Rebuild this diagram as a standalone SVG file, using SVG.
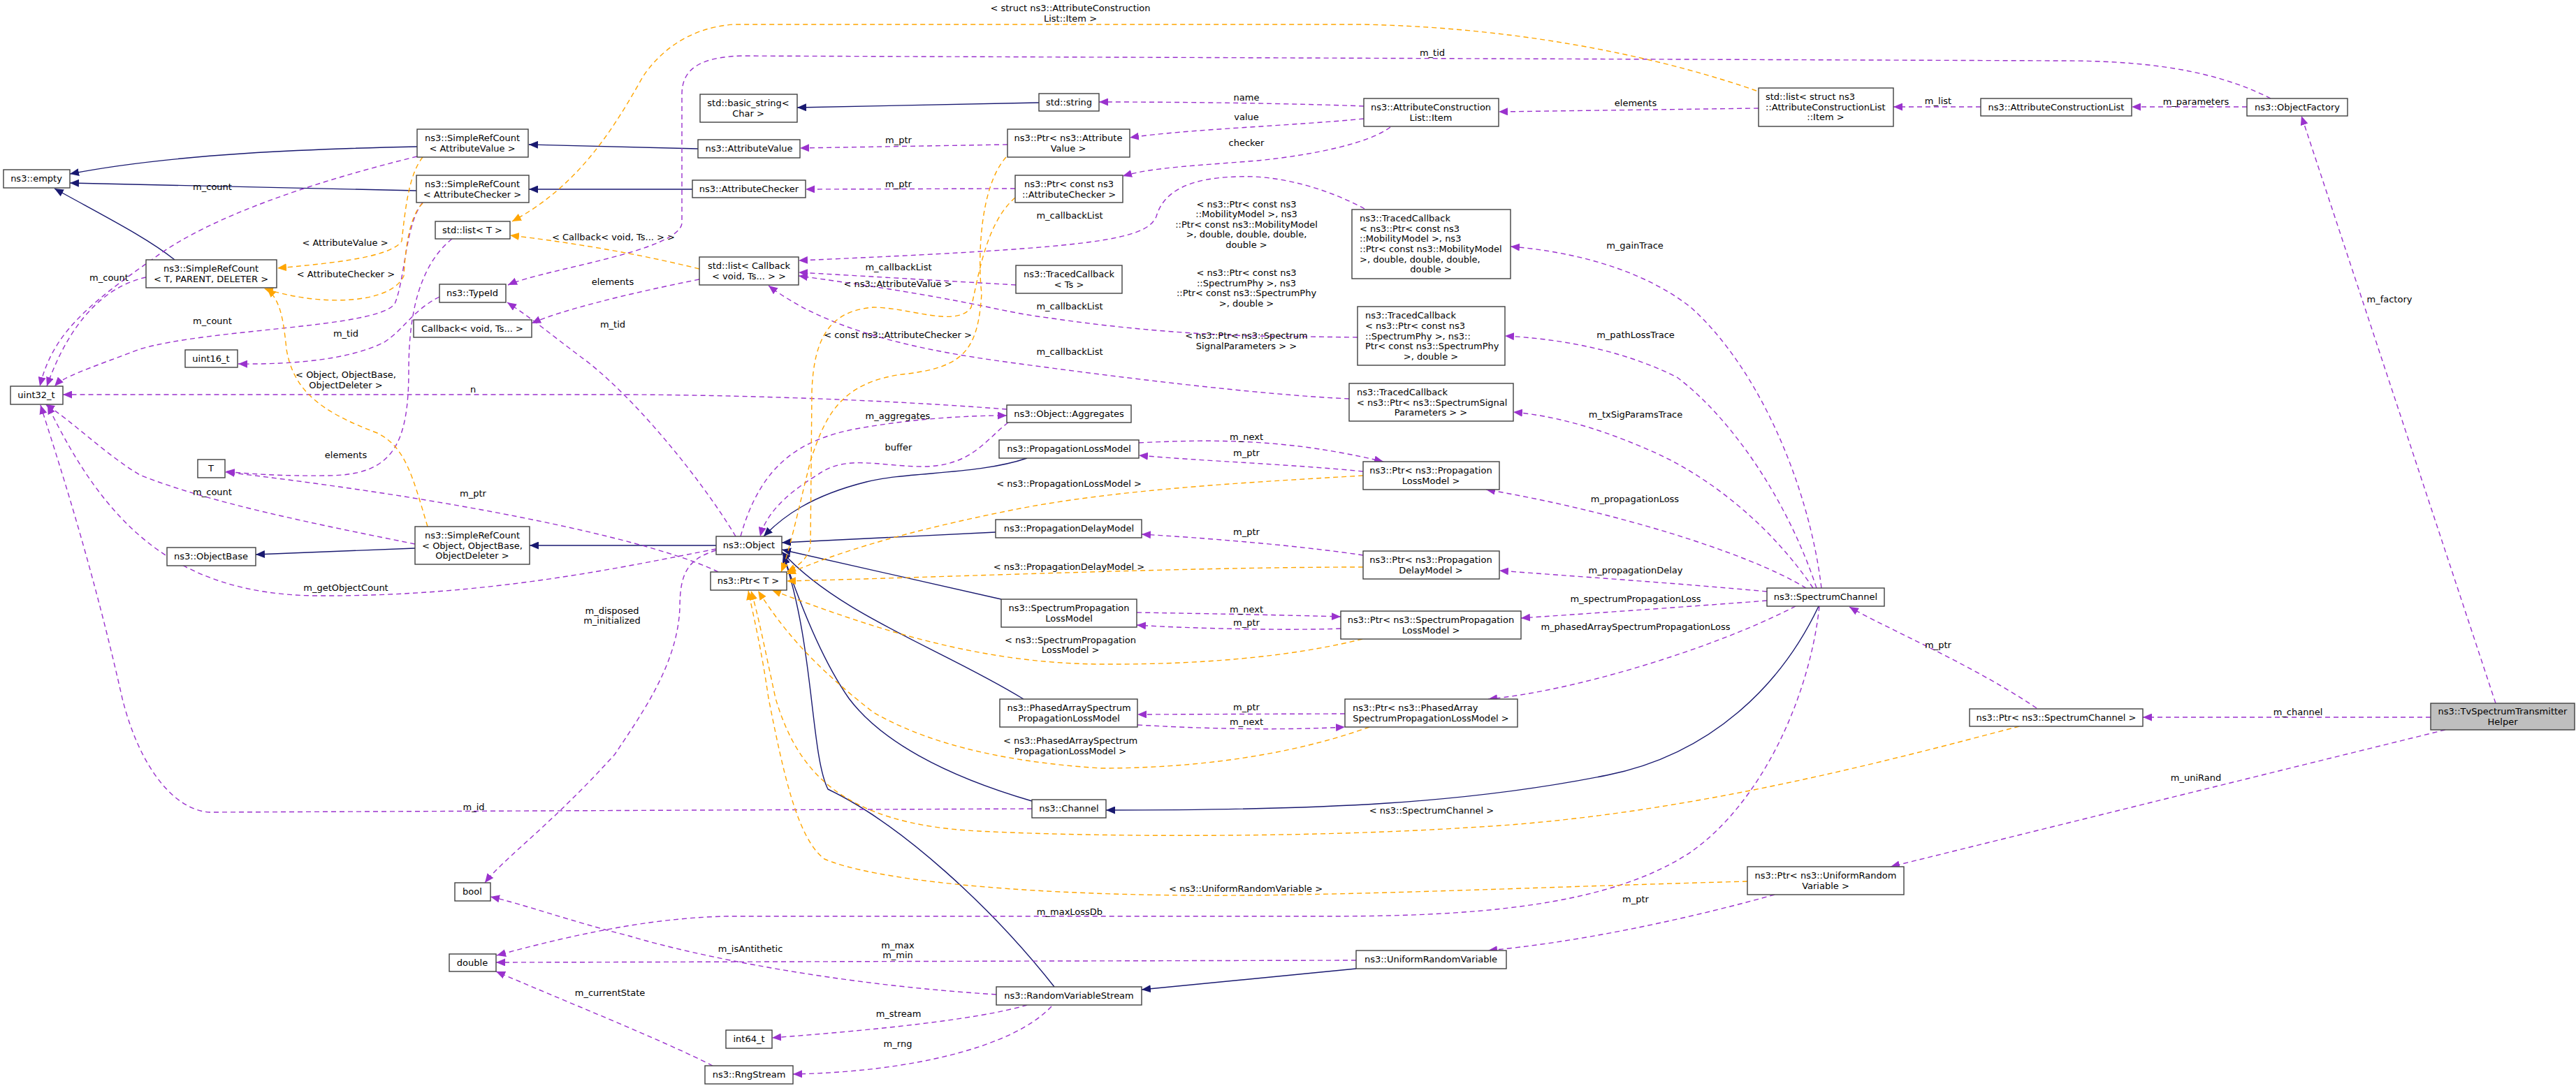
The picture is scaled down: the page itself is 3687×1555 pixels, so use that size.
<svg xmlns="http://www.w3.org/2000/svg" width="3687" height="1555" viewBox="0 0 3687 1555">
<style>
text{font-family:"DejaVu Sans","Liberation Sans",sans-serif;font-size:13px;fill:#000}
.n rect{fill:#fff;stroke:#404040;stroke-width:1.4}
.c{text-anchor:middle}
.i{fill:none;stroke:#191970;stroke-width:1.4}
.u{fill:none;stroke:#9a32cd;stroke-width:1.4;stroke-dasharray:7,5}
.t{fill:none;stroke:#ffa500;stroke-width:1.4;stroke-dasharray:7,5}
</style>
<defs>
<marker id="ai" markerUnits="userSpaceOnUse" markerWidth="14" markerHeight="11" refX="13" refY="5.5" orient="auto"><path d="M0,0 L13,5.5 L0,11 z" fill="#191970"/></marker>
<marker id="au" markerUnits="userSpaceOnUse" markerWidth="14" markerHeight="11" refX="13" refY="5.5" orient="auto"><path d="M0,0 L13,5.5 L0,11 z" fill="#9a32cd"/></marker>
<marker id="at" markerUnits="userSpaceOnUse" markerWidth="14" markerHeight="11" refX="13" refY="5.5" orient="auto"><path d="M0,0 L13,5.5 L0,11 z" fill="#ffa500"/></marker>
</defs>
<rect width="3687" height="1555" fill="#fff"/>
<g id="edges">
<!-- inheritance -->
<path class="i" marker-end="url(#ai)" d="M597,210 C450,213 250,220 100,249"/>
<path class="i" marker-end="url(#ai)" d="M596,273 L100,262"/>
<path class="i" marker-end="url(#ai)" d="M250,372 C210,340 150,310 78,270"/>
<path class="i" marker-end="url(#ai)" d="M999,213 L757,207"/>
<path class="i" marker-end="url(#ai)" d="M991,271 L757,271"/>
<path class="i" marker-end="url(#ai)" d="M1487,147 L1141,154"/>
<path class="i" marker-end="url(#ai)" d="M1025,781 L758,781"/>
<path class="i" marker-end="url(#ai)" d="M594,785 L366,794"/>
<path class="i" marker-end="url(#ai)" d="M1470,656 C1400,680 1300,675 1240,690 C1160,710 1120,740 1093,768"/>
<path class="i" marker-end="url(#ai)" d="M1425,762 L1119,777"/>
<path class="i" marker-end="url(#ai)" d="M1433,858 L1119,787"/>
<path class="i" marker-end="url(#ai)" d="M1465,1001 C1350,930 1200,880 1119,790"/>
<path class="i" marker-end="url(#ai)" d="M1477,1147 C1350,1110 1260,1060 1215,1000 C1180,950 1150,880 1121,794"/>
<path class="i" marker-end="url(#ai)" d="M1509,1413 C1420,1300 1290,1180 1185,1130 C1160,1080 1165,920 1121,795"/>
<path class="i" marker-end="url(#ai)" d="M2603,868 C2550,980 2450,1080 2300,1110 C2100,1150 1900,1160 1583,1160"/>
<path class="i" marker-end="url(#ai)" d="M1941,1387 L1634,1417"/>
<!-- usage -->
<path class="u" marker-end="url(#au)" d="M3250,141 C3160,95 3050,87 2950,87 L1060,80 C1000,82 976,100 976,135 L976,320 C970,360 780,385 727,408"/>
<path class="u" marker-end="url(#au)" d="M1053,768 C1000,680 900,560 830,510 C790,480 760,455 726,433"/>
<path class="u" marker-end="url(#au)" d="M1001,400 C900,420 800,445 761,463"/>
<path class="u" marker-end="url(#au)" d="M1454,408 L1143,390"/>
<path class="u" marker-end="url(#au)" d="M1953,299 C1900,270 1830,250 1770,253 C1700,255 1665,275 1655,310 C1640,345 1560,355 1143,373"/>
<path class="u" marker-end="url(#au)" d="M1943,483 L1790,481 C1700,478 1600,470 1500,455 C1420,445 1400,430 1143,395"/>
<path class="u" marker-end="url(#au)" d="M1931,571 C1800,565 1600,540 1453,520 C1300,500 1180,470 1100,409"/>
<path class="u" marker-end="url(#au)" d="M1952,152 C1850,148 1700,146 1573,146"/>
<path class="u" marker-end="url(#au)" d="M1952,170 C1850,180 1700,185 1617,197"/>
<path class="u" marker-end="url(#au)" d="M1990,182 C1960,205 1880,222 1800,230 C1700,238 1650,240 1607,252"/>
<path class="u" marker-end="url(#au)" d="M1442,207 L1145,212"/>
<path class="u" marker-end="url(#au)" d="M1453,270 L1153,271"/>
<path class="u" marker-end="url(#au)" d="M2517,155 L2145,160"/>
<path class="u" marker-end="url(#au)" d="M2835,153 L2710,153"/>
<path class="u" marker-end="url(#au)" d="M3216,153 L3051,153"/>
<path class="u" marker-end="url(#au)" d="M3572,1007 L3294,166"/>
<path class="u" marker-end="url(#au)" d="M3479,1027 L3067,1027"/>
<path class="u" marker-end="url(#au)" d="M3500,1045 L2706,1241"/>
<path class="u" marker-end="url(#au)" d="M2915,1014 C2820,950 2700,900 2647,869"/>
<path class="u" marker-end="url(#au)" d="M2540,1281 C2400,1320 2250,1350 2130,1361"/>
<path class="u" marker-end="url(#au)" d="M2607,842 C2590,700 2520,530 2420,440 C2350,385 2250,360 2162,353"/>
<path class="u" marker-end="url(#au)" d="M2600,842 C2560,720 2480,600 2400,540 C2320,500 2230,485 2154,481"/>
<path class="u" marker-end="url(#au)" d="M2595,842 C2540,760 2450,680 2350,640 C2280,610 2220,595 2166,590"/>
<path class="u" marker-end="url(#au)" d="M2585,842 C2500,790 2300,730 2127,701"/>
<path class="u" marker-end="url(#au)" d="M2529,847 C2400,835 2250,825 2146,817"/>
<path class="u" marker-end="url(#au)" d="M2529,860 C2400,870 2250,880 2177,885"/>
<path class="u" marker-end="url(#au)" d="M2570,868 C2450,930 2250,990 2130,1001"/>
<path class="u" marker-end="url(#au)" d="M2604,868 C2590,1000 2520,1150 2420,1220 C2300,1300 2100,1312 1900,1312 L1040,1312 C950,1314 850,1330 711,1368"/>
<path class="u" marker-end="url(#au)" d="M1941,1375 L710,1378"/>
<path class="u" marker-end="url(#au)" d="M1426,1424 C1200,1410 1000,1370 900,1340 C820,1320 750,1295 702,1284"/>
<path class="u" marker-end="url(#au)" d="M1470,1439 C1400,1460 1250,1475 1105,1486"/>
<path class="u" marker-end="url(#au)" d="M1505,1441 C1450,1500 1300,1535 1135,1538"/>
<path class="u" marker-end="url(#au)" d="M1020,1526 C950,1490 800,1430 710,1391"/>
<path class="u" marker-end="url(#au)" d="M1025,788 C985,800 973,820 973,870 C970,950 920,1020 880,1080 C790,1180 720,1230 694,1264"/>
<path class="u" marker-end="url(#au)" d="M1060,768 C1090,660 1150,630 1220,615 C1300,600 1380,595 1441,595"/>
<path class="u" marker-end="url(#au)" d="M1443,605 C1410,630 1390,668 1320,668 C1260,668 1210,650 1170,680 C1120,710 1095,740 1088,768"/>
<path class="u" marker-end="url(#au)" d="M1441,586 C1300,575 1100,566 900,565 L90,565"/>
<path class="u" marker-end="url(#au)" d="M597,224 C450,260 300,310 220,370 C120,440 75,480 57,553"/>
<path class="u" marker-end="url(#au)" d="M209,397 C150,410 100,460 67,553"/>
<path class="u" marker-end="url(#au)" d="M605,290 C580,320 580,400 565,435 C540,470 300,470 200,500 C120,530 90,540 78,553"/>
<path class="u" marker-end="url(#au)" d="M594,779 C450,750 300,720 200,680 C150,650 100,600 65,579"/>
<path class="u" marker-end="url(#au)" d="M1025,786 C900,810 700,855 450,853 C250,850 150,750 68,580"/>
<path class="u" marker-end="url(#au)" d="M1477,1158 L300,1163 C250,1160 200,1100 175,1000 C130,800 80,650 58,580"/>
<path class="u" marker-end="url(#au)" d="M647,342 C600,380 585,450 585,530 C585,640 560,680 470,681 C400,682 350,678 323,675"/>
<path class="u" marker-end="url(#au)" d="M629,425 C590,445 580,470 550,490 C500,515 420,522 341,521"/>
<path class="u" marker-end="url(#au)" d="M1028,819 C950,780 700,720 323,676"/>
<path class="u" marker-end="url(#au)" d="M1951,675 C1850,665 1720,660 1630,652"/>
<path class="u" marker-end="url(#au)" d="M1630,634 C1750,628 1850,630 1980,661"/>
<path class="u" marker-end="url(#au)" d="M1951,795 C1850,780 1720,770 1634,765"/>
<path class="u" marker-end="url(#au)" d="M1919,900 C1850,903 1700,900 1627,895"/>
<path class="u" marker-end="url(#au)" d="M1627,877 C1750,879 1850,881 1919,883"/>
<path class="u" marker-end="url(#au)" d="M1925,1022 L1628,1023"/>
<path class="u" marker-end="url(#au)" d="M1628,1038 C1750,1045 1850,1045 1925,1041"/>
<!-- template -->
<path class="t" marker-end="url(#at)" d="M2514,130 C2400,90 2200,40 1950,35 L1050,35 C980,40 940,80 920,110 C870,200 820,270 733,317"/>
<path class="t" marker-end="url(#at)" d="M605,225 C585,250 580,300 575,345 C560,370 460,378 397,384"/>
<path class="t" marker-end="url(#at)" d="M605,291 C585,310 580,360 578,395 C560,435 460,440 378,413"/>
<path class="t" marker-end="url(#at)" d="M612,754 C590,680 580,640 540,620 C460,590 420,560 410,500 C405,450 400,430 382,413"/>
<path class="t" marker-end="url(#at)" d="M1001,385 C900,360 800,345 730,337"/>
<path class="t" marker-end="url(#at)" d="M1440,225 C1400,270 1400,380 1405,420 C1400,500 1380,525 1300,535 C1200,545 1180,600 1160,660 C1140,740 1130,790 1118,819"/>
<path class="t" marker-end="url(#at)" d="M1453,283 C1410,320 1400,400 1390,440 C1370,470 1300,440 1250,440 C1190,445 1165,480 1162,560 L1160,780 C1158,800 1140,812 1126,819"/>
<path class="t" marker-end="url(#at)" d="M1951,681 C1800,690 1600,700 1450,730 C1300,760 1200,790 1126,822"/>
<path class="t" marker-end="url(#at)" d="M1951,812 C1700,812 1400,825 1126,832"/>
<path class="t" marker-end="url(#at)" d="M1950,915 C1870,935 1750,952 1576,951 C1400,950 1250,900 1105,845"/>
<path class="t" marker-end="url(#at)" d="M1960,1041 C1880,1070 1750,1100 1576,1100 C1420,1090 1320,1060 1250,1020 C1160,950 1120,900 1085,846"/>
<path class="t" marker-end="url(#at)" d="M2890,1040 C2700,1090 2400,1170 2100,1185 C1900,1198 1600,1200 1400,1190 C1200,1180 1140,1100 1110,1000 C1095,930 1085,880 1075,846"/>
<path class="t" marker-end="url(#at)" d="M2501,1262 C2200,1270 1900,1284 1700,1282 C1450,1280 1250,1260 1180,1230 C1140,1200 1120,1100 1100,1000 C1090,930 1078,880 1071,846"/>
<!-- labels -->
<g class="c">
<text x="1532" y="16">&lt; struct ns3::AttributeConstruction</text>
<text x="1532" y="31">List::Item &gt;</text>
<text x="2050" y="80">m_tid</text>
<text x="1784" y="144">name</text>
<text x="1784" y="172">value</text>
<text x="1784" y="209">checker</text>
<text x="2341" y="152">elements</text>
<text x="2774" y="149">m_list</text>
<text x="3143" y="150">m_parameters</text>
<text x="1286" y="205">m_ptr</text>
<text x="1286" y="268">m_ptr</text>
<text x="304" y="272">m_count</text>
<text x="494" y="352">&lt; AttributeValue &gt;</text>
<text x="495" y="397">&lt; AttributeChecker &gt;</text>
<text x="156" y="402">m_count</text>
<text x="304" y="464">m_count</text>
<text x="495" y="482">m_tid</text>
<text x="877" y="408">elements</text>
<text x="877" y="469">m_tid</text>
<text x="878" y="344">&lt; Callback&lt; void, Ts... &gt; &gt;</text>
<text x="1531" y="313">m_callbackList</text>
<text x="1784" y="297">&lt; ns3::Ptr&lt; const ns3</text>
<text x="1784" y="311">::MobilityModel &gt;, ns3</text>
<text x="1784" y="326">::Ptr&lt; const ns3::MobilityModel</text>
<text x="1784" y="340">&gt;, double, double, double,</text>
<text x="1784" y="355">double &gt;</text>
<text x="1286" y="387">m_callbackList</text>
<text x="1285" y="411">&lt; ns3::AttributeValue &gt;</text>
<text x="1784" y="395">&lt; ns3::Ptr&lt; const ns3</text>
<text x="1784" y="410">::SpectrumPhy &gt;, ns3</text>
<text x="1784" y="424">::Ptr&lt; const ns3::SpectrumPhy</text>
<text x="1784" y="439">&gt;, double &gt;</text>
<text x="1531" y="443">m_callbackList</text>
<text x="1784" y="485">&lt; ns3::Ptr&lt; ns3::Spectrum</text>
<text x="1784" y="500">SignalParameters &gt; &gt;</text>
<text x="1285" y="484">&lt; const ns3::AttributeChecker &gt;</text>
<text x="1531" y="508">m_callbackList</text>
<text x="2340" y="356">m_gainTrace</text>
<text x="2341" y="484">m_pathLossTrace</text>
<text x="3420" y="433">m_factory</text>
<text x="495" y="541">&lt; Object, ObjectBase,</text>
<text x="495" y="556">ObjectDeleter &gt;</text>
<text x="677" y="562">n</text>
<text x="495" y="656">elements</text>
<text x="304" y="709">m_count</text>
<text x="677" y="711">m_ptr</text>
<text x="495" y="846">m_getObjectCount</text>
<text x="876" y="879">m_disposed</text>
<text x="876" y="893">m_initialized</text>
<text x="1285" y="600">m_aggregates</text>
<text x="1286" y="645">buffer</text>
<text x="1784" y="630">m_next</text>
<text x="1784" y="653">m_ptr</text>
<text x="1530" y="697">&lt; ns3::PropagationLossModel &gt;</text>
<text x="1784" y="766">m_ptr</text>
<text x="1530" y="816">&lt; ns3::PropagationDelayModel &gt;</text>
<text x="1784" y="877">m_next</text>
<text x="1784" y="896">m_ptr</text>
<text x="1532" y="921">&lt; ns3::SpectrumPropagation</text>
<text x="1532" y="935">LossModel &gt;</text>
<text x="1784" y="1017">m_ptr</text>
<text x="1784" y="1038">m_next</text>
<text x="2341" y="598">m_txSigParamsTrace</text>
<text x="2340" y="719">m_propagationLoss</text>
<text x="2341" y="821">m_propagationDelay</text>
<text x="2341" y="862">m_spectrumPropagationLoss</text>
<text x="2341" y="902">m_phasedArraySpectrumPropagationLoss</text>
<text x="2774" y="928">m_ptr</text>
<text x="3289" y="1024">m_channel</text>
<text x="678" y="1160">m_id</text>
<text x="873" y="1426">m_currentState</text>
<text x="1532" y="1065">&lt; ns3::PhasedArraySpectrum</text>
<text x="1532" y="1080">PropagationLossModel &gt;</text>
<text x="1783" y="1277">&lt; ns3::UniformRandomVariable &gt;</text>
<text x="1531" y="1310">m_maxLossDb</text>
<text x="1074" y="1363">m_isAntithetic</text>
<text x="1285" y="1358">m_max</text>
<text x="1285" y="1372">m_min</text>
<text x="1286" y="1456">m_stream</text>
<text x="1285" y="1499">m_rng</text>
<text x="2049" y="1165">&lt; ns3::SpectrumChannel &gt;</text>
<text x="2341" y="1292">m_ptr</text>
<text x="3143" y="1118">m_uniRand</text>
</g>
</g>
<g id="n_empty" class="n"><rect x="5" y="243" width="95" height="26"/><text class="c" x="52" y="260">ns3::empty</text></g>
<g id="n_src_av" class="n"><rect x="597" y="185" width="159" height="40"/><text class="c" x="676" y="202">ns3::SimpleRefCount</text><text class="c" x="676" y="217">&lt; AttributeValue &gt;</text></g>
<g id="n_src_ac" class="n"><rect x="596" y="251" width="161" height="39"/><text class="c" x="676" y="268">ns3::SimpleRefCount</text><text class="c" x="676" y="283">&lt; AttributeChecker &gt;</text></g>
<g id="n_listT" class="n"><rect x="623" y="317" width="107" height="25"/><text class="c" x="676" y="334">std::list&lt; T &gt;</text></g>
<g id="n_src_tpd" class="n"><rect x="209" y="372" width="187" height="40"/><text class="c" x="302" y="389">ns3::SimpleRefCount</text><text class="c" x="302" y="404">&lt; T, PARENT, DELETER &gt;</text></g>
<g id="n_typeid" class="n"><rect x="629" y="407" width="95" height="26"/><text class="c" x="676" y="424">ns3::TypeId</text></g>
<g id="n_callback" class="n"><rect x="592" y="458" width="169" height="25"/><text class="c" x="676" y="475">Callback&lt; void, Ts... &gt;</text></g>
<g id="n_uint16" class="n"><rect x="265" y="501" width="75" height="25"/><text class="c" x="302" y="518">uint16_t</text></g>
<g id="n_uint32" class="n"><rect x="15" y="553" width="75" height="26"/><text class="c" x="52" y="570">uint32_t</text></g>
<g id="n_T" class="n"><rect x="283" y="658" width="39" height="26"/><text class="c" x="302" y="675">T</text></g>
<g id="n_objectbase" class="n"><rect x="239" y="784" width="127" height="26"/><text class="c" x="302" y="801">ns3::ObjectBase</text></g>
<g id="n_src_obj" class="n"><rect x="594" y="754" width="164" height="54"/><text class="c" x="676" y="771">ns3::SimpleRefCount</text><text class="c" x="676" y="786">&lt; Object, ObjectBase,</text><text class="c" x="676" y="800">ObjectDeleter &gt;</text></g>
<g id="n_bool" class="n"><rect x="651" y="1264" width="51" height="26"/><text class="c" x="676" y="1281">bool</text></g>
<g id="n_double" class="n"><rect x="643" y="1366" width="67" height="25"/><text class="c" x="676" y="1383">double</text></g>
<g id="n_basic_string" class="n"><rect x="1002" y="135" width="139" height="40"/><text class="c" x="1071" y="152">std::basic_string&lt;</text><text class="c" x="1071" y="167">Char &gt;</text></g>
<g id="n_attrvalue" class="n"><rect x="999" y="200" width="146" height="26"/><text class="c" x="1072" y="217">ns3::AttributeValue</text></g>
<g id="n_attrchecker" class="n"><rect x="991" y="258" width="162" height="25"/><text class="c" x="1072" y="275">ns3::AttributeChecker</text></g>
<g id="n_listcallback" class="n"><rect x="1001" y="368" width="142" height="40"/><text class="c" x="1072" y="385">std::list&lt; Callback</text><text class="c" x="1072" y="400">&lt; void, Ts... &gt; &gt;</text></g>
<g id="n_object" class="n"><rect x="1025" y="768" width="94" height="26"/><text class="c" x="1072" y="785">ns3::Object</text></g>
<g id="n_ptrT" class="n"><rect x="1017" y="819" width="109" height="26"/><text class="c" x="1071" y="836">ns3::Ptr&lt; T &gt;</text></g>
<g id="n_int64" class="n"><rect x="1039" y="1475" width="66" height="26"/><text class="c" x="1072" y="1492">int64_t</text></g>
<g id="n_rngstream" class="n"><rect x="1009" y="1526" width="126" height="26"/><text class="c" x="1072" y="1543">ns3::RngStream</text></g>
<g id="n_string" class="n"><rect x="1487" y="134" width="86" height="25"/><text class="c" x="1530" y="151">std::string</text></g>
<g id="n_ptr_av" class="n"><rect x="1442" y="185" width="175" height="40"/><text class="c" x="1529" y="202">ns3::Ptr&lt; ns3::Attribute</text><text class="c" x="1529" y="217">Value &gt;</text></g>
<g id="n_ptr_ac" class="n"><rect x="1453" y="251" width="154" height="39"/><text class="c" x="1530" y="268">ns3::Ptr&lt; const ns3</text><text class="c" x="1530" y="283">::AttributeChecker &gt;</text></g>
<g id="n_tc_ts" class="n"><rect x="1454" y="380" width="152" height="40"/><text class="c" x="1530" y="397">ns3::TracedCallback</text><text class="c" x="1530" y="412">&lt; Ts &gt;</text></g>
<g id="n_aggregates" class="n"><rect x="1441" y="580" width="178" height="25"/><text class="c" x="1530" y="597">ns3::Object::Aggregates</text></g>
<g id="n_plm" class="n"><rect x="1430" y="630" width="200" height="26"/><text class="c" x="1530" y="647">ns3::PropagationLossModel</text></g>
<g id="n_pdm" class="n"><rect x="1425" y="744" width="209" height="26"/><text class="c" x="1530" y="761">ns3::PropagationDelayModel</text></g>
<g id="n_splm" class="n"><rect x="1433" y="858" width="194" height="40"/><text class="c" x="1530" y="875">ns3::SpectrumPropagation</text><text class="c" x="1530" y="890">LossModel</text></g>
<g id="n_pasplm" class="n"><rect x="1431" y="1001" width="197" height="40"/><text class="c" x="1530" y="1018">ns3::PhasedArraySpectrum</text><text class="c" x="1530" y="1033">PropagationLossModel</text></g>
<g id="n_channel" class="n"><rect x="1477" y="1145" width="106" height="26"/><text class="c" x="1530" y="1162">ns3::Channel</text></g>
<g id="n_rvs" class="n"><rect x="1426" y="1413" width="208" height="26"/><text class="c" x="1530" y="1430">ns3::RandomVariableStream</text></g>
<g id="n_item" class="n"><rect x="1952" y="141" width="193" height="40"/><text class="c" x="2048" y="158">ns3::AttributeConstruction</text><text class="c" x="2048" y="173">List::Item</text></g>
<g id="n_tc_mob" class="n"><rect x="1935" y="300" width="227" height="99"/><text x="1946" y="317">ns3::TracedCallback</text><text x="1946" y="332">&lt; ns3::Ptr&lt; const ns3</text><text x="1946" y="346">::MobilityModel &gt;, ns3</text><text x="1946" y="361">::Ptr&lt; const ns3::MobilityModel</text><text x="1946" y="376"> &gt;, double, double, double,</text><text class="c" x="2048" y="390">double &gt;</text></g>
<g id="n_tc_phy" class="n"><rect x="1943" y="439" width="211" height="84"/><text x="1954" y="456">ns3::TracedCallback</text><text x="1954" y="471">&lt; ns3::Ptr&lt; const ns3</text><text x="1954" y="486">::SpectrumPhy &gt;, ns3::</text><text x="1954" y="500">Ptr&lt; const ns3::SpectrumPhy</text><text class="c" x="2048" y="515">&gt;, double &gt;</text></g>
<g id="n_tc_sig" class="n"><rect x="1931" y="549" width="235" height="54"/><text x="1942" y="566">ns3::TracedCallback</text><text x="1942" y="581">&lt; ns3::Ptr&lt; ns3::SpectrumSignal</text><text class="c" x="2048" y="595">Parameters &gt; &gt;</text></g>
<g id="n_ptr_plm" class="n"><rect x="1951" y="661" width="195" height="40"/><text class="c" x="2048" y="678">ns3::Ptr&lt; ns3::Propagation</text><text class="c" x="2048" y="693">LossModel &gt;</text></g>
<g id="n_ptr_pdm" class="n"><rect x="1951" y="789" width="195" height="40"/><text class="c" x="2048" y="806">ns3::Ptr&lt; ns3::Propagation</text><text class="c" x="2048" y="821">DelayModel &gt;</text></g>
<g id="n_ptr_splm" class="n"><rect x="1919" y="875" width="258" height="40"/><text class="c" x="2048" y="892">ns3::Ptr&lt; ns3::SpectrumPropagation</text><text class="c" x="2048" y="907">LossModel &gt;</text></g>
<g id="n_ptr_pa" class="n"><rect x="1925" y="1001" width="247" height="40"/><text x="1936" y="1018">ns3::Ptr&lt; ns3::PhasedArray</text><text class="c" x="2048" y="1033">SpectrumPropagationLossModel &gt;</text></g>
<g id="n_urv" class="n"><rect x="1941" y="1361" width="215" height="26"/><text class="c" x="2048" y="1378">ns3::UniformRandomVariable</text></g>
<g id="n_spectrumchannel" class="n"><rect x="2529" y="842" width="168" height="26"/><text class="c" x="2613" y="859">ns3::SpectrumChannel</text></g>
<g id="n_list_item" class="n"><rect x="2517" y="126" width="193" height="55"/><text x="2527" y="143">std::list&lt; struct ns3</text><text x="2527" y="158">::AttributeConstructionList</text><text class="c" x="2613" y="172">::Item &gt;</text></g>
<g id="n_acl" class="n"><rect x="2835" y="141" width="216" height="25"/><text class="c" x="2943" y="158">ns3::AttributeConstructionList</text></g>
<g id="n_objectfactory" class="n"><rect x="3216" y="141" width="144" height="25"/><text class="c" x="3288" y="158">ns3::ObjectFactory</text></g>
<g id="n_ptr_sc" class="n"><rect x="2819" y="1015" width="248" height="25"/><text class="c" x="2943" y="1032">ns3::Ptr&lt; ns3::SpectrumChannel &gt;</text></g>
<g id="n_ptr_urv" class="n"><rect x="2501" y="1241" width="224" height="40"/><text class="c" x="2613" y="1258">ns3::Ptr&lt; ns3::UniformRandom</text><text class="c" x="2613" y="1273">Variable &gt;</text></g>
<g id="n_tvhelper" class="n"><rect x="3479" y="1007" width="206" height="38" style="fill:#bfbfbf"/><text class="c" x="3582" y="1023">ns3::TvSpectrumTransmitter</text><text class="c" x="3582" y="1038">Helper</text></g>
</svg>
